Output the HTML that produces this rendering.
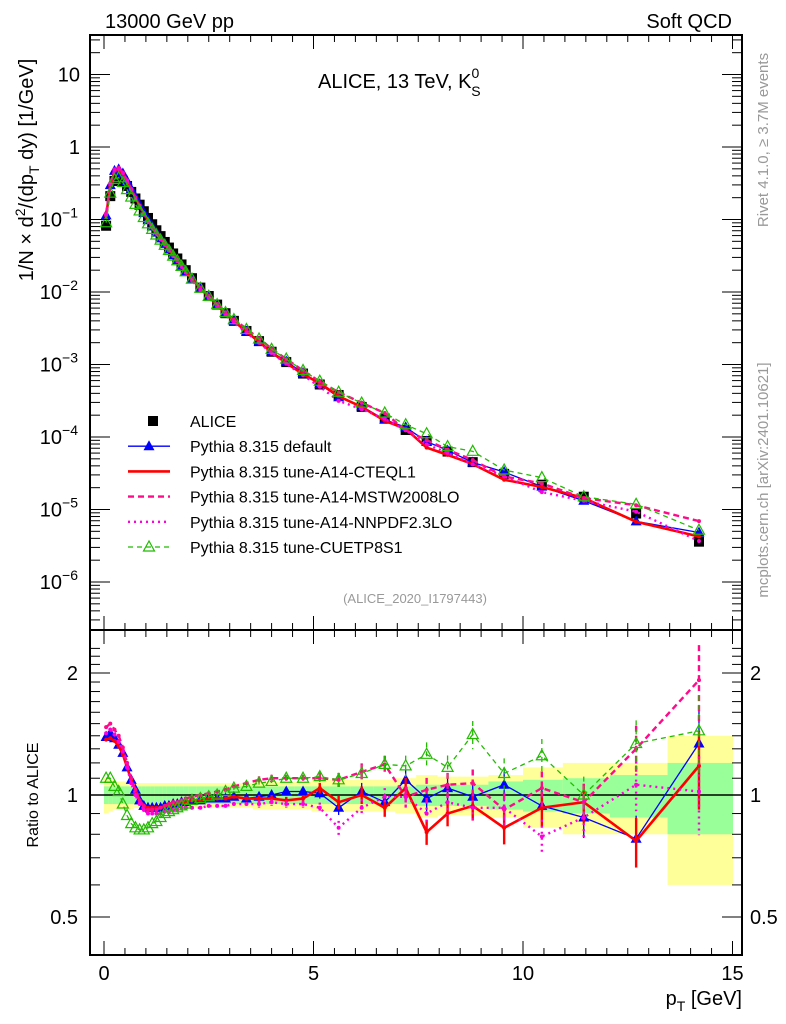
<!DOCTYPE html>
<html><head><meta charset="utf-8">
<style>
html,body{margin:0;padding:0;background:#fff;}
svg{display:block;font-family:"Liberation Sans",sans-serif;}
</style></head>
<body>
<svg id="chart" width="786" height="1024" viewBox="0 0 786 1024" xmlns="http://www.w3.org/2000/svg">
<rect width="786" height="1024" fill="#fff"/>
<g id="bands"></g>
<g id="grid"></g>
<g id="series"></g>
<g id="axes"></g>
<text x="105" y="28" font-size="20">13000 GeV pp</text>
<text x="732" y="28" font-size="20" text-anchor="end">Soft QCD</text>
<text x="318" y="88" font-size="20">ALICE, 13 TeV, K<tspan font-size="14" dy="-10">0</tspan><tspan font-size="14" dx="-8" dy="18">S</tspan></text>
<text x="415" y="603" font-size="13" fill="#999" text-anchor="middle">(ALICE_2020_I1797443)</text>
<text transform="translate(768,140) rotate(-90)" font-size="15" fill="#999" text-anchor="middle">Rivet 4.1.0, ≥ 3.7M events</text>
<text transform="translate(768,480) rotate(-90)" font-size="15" fill="#999" text-anchor="middle">mcplots.cern.ch [arXiv:2401.10621]</text>
<text transform="translate(33,170) rotate(-90)" font-size="20" text-anchor="middle">1/N × d<tspan font-size="14" dy="-8">2</tspan><tspan dy="8">/(dp</tspan><tspan font-size="14" dy="6">T</tspan><tspan dy="-6"> dy) [1/GeV]</tspan></text>
<text transform="translate(38,795) rotate(-90)" font-size="16" text-anchor="middle">Ratio to ALICE</text>
<text x="742" y="1005" font-size="20" text-anchor="end">p<tspan font-size="14" dy="6">T</tspan><tspan dy="-6"> [GeV]</tspan></text>
<g id="legend"></g>
</svg>
<script>
const pT = [0.05,0.15,0.25,0.35,0.45,0.55,0.65,0.75,0.85,0.95,1.05,1.15,1.25,1.35,1.45,1.55,1.65,1.75,1.85,1.95,2.1,2.3,2.5,2.7,2.9,3.1,3.4,3.7,4.0,4.35,4.75,5.15,5.6,6.15,6.7,7.2,7.7,8.2,8.8,9.55,10.45,11.45,12.7,14.2];
const aliceVals = [0.082,0.21,0.34,0.37,0.34,0.29,0.24,0.195,0.16,0.13,0.105,0.086,0.071,0.059,0.049,0.041,0.034,0.029,0.024,0.020,0.0155,0.0115,0.0088,0.0067,0.0051,0.0040,0.0029,0.0021,0.0015,0.00108,0.00075,0.00053,0.00038,0.00026,0.00018,0.000125,0.000088,0.000063,0.000045,0.000031,0.000022,0.000015,0.0000088,0.0000036];
const statErr = [0.05,0.05,0.05,0.05,0.05,0.05,0.05,0.05,0.05,0.05,0.05,0.05,0.05,0.05,0.05,0.05,0.05,0.05,0.05,0.05,0.05,0.05,0.05,0.05,0.05,0.05,0.05,0.05,0.05,0.05,0.05,0.05,0.05,0.05,0.05,0.05,0.06,0.06,0.06,0.08,0.09,0.1,0.12,0.2];
const totErr = [0.1,0.09,0.08,0.08,0.08,0.08,0.08,0.07,0.07,0.07,0.07,0.07,0.07,0.07,0.07,0.07,0.07,0.07,0.07,0.07,0.07,0.07,0.07,0.07,0.07,0.07,0.07,0.08,0.08,0.08,0.08,0.09,0.09,0.09,0.09,0.1,0.12,0.11,0.11,0.12,0.17,0.2,0.2,0.4];
const ratioDefault = [1.39,1.42,1.38,1.33,1.27,1.17,1.09,1.03,0.97,0.94,0.93,0.93,0.93,0.93,0.94,0.94,0.95,0.95,0.96,0.96,0.97,0.97,0.98,0.98,0.98,0.99,0.98,0.99,1.0,1.02,1.02,1.01,0.93,1.02,0.96,1.09,0.98,1.04,0.99,1.06,0.94,0.88,0.78,1.34];
const ratioA14 = [1.37,1.38,1.36,1.32,1.26,1.17,1.09,1.03,0.97,0.94,0.93,0.93,0.93,0.93,0.94,0.94,0.95,0.95,0.96,0.96,0.97,0.97,0.98,0.98,0.98,0.99,0.98,0.98,0.98,0.97,0.98,1.04,0.96,1.0,0.93,1.04,0.81,0.9,0.94,0.83,0.93,0.96,0.77,1.18];
const ratioMSTW = [1.47,1.5,1.45,1.4,1.31,1.2,1.1,1.03,0.97,0.94,0.92,0.92,0.92,0.93,0.94,0.95,0.96,0.96,0.97,0.98,0.99,1.0,1.01,1.02,1.03,1.05,1.07,1.09,1.1,1.1,1.1,1.1,1.09,1.14,1.19,0.99,1.03,1.06,1.07,0.92,1.04,0.96,1.3,1.92];
const ratioNNPDF = [1.42,1.45,1.41,1.35,1.28,1.17,1.07,1.0,0.95,0.92,0.9,0.9,0.9,0.9,0.91,0.91,0.92,0.92,0.93,0.93,0.93,0.93,0.94,0.94,0.94,0.95,0.95,0.95,0.96,0.95,0.95,0.93,0.83,0.93,0.99,0.99,0.9,0.96,0.93,0.93,0.79,0.88,1.06,1.02];
const ratioCUETP8 = [1.1,1.1,1.05,1.02,0.95,0.89,0.85,0.83,0.82,0.82,0.83,0.85,0.86,0.88,0.9,0.91,0.92,0.93,0.94,0.95,0.97,0.98,0.99,1.0,1.02,1.04,1.05,1.07,1.08,1.1,1.1,1.11,1.09,1.13,1.19,1.18,1.26,1.17,1.41,1.13,1.25,1.0,1.34,1.44];
const mcErr = [0,0,0,0,0,0,0,0,0,0,0,0,0,0,0,0,0,0,0,0,0.01,0.01,0.01,0.01,0.01,0.01,0.01,0.02,0.02,0.02,0.02,0.03,0.04,0.05,0.05,0.06,0.07,0.07,0.08,0.09,0.1,0.11,0.14,0.22];
const xTicks = [0,5,10,15];
const mainTickLabels = ["10","1","10^-1","10^-2","10^-3","10^-4","10^-5","10^-6"];
const ratioTicks = [2,1,0.5];

const NS="http://www.w3.org/2000/svg";
const L=90,R=742,T=35,MB=630,RB=955;
const X=v=>104+41.9*v;
const Y=v=>147-72.5*Math.log10(v);
const YR=v=>795-405.3*Math.log10(v);
function mk(tag,attrs,parent){const e=document.createElementNS(NS,tag);for(const k in attrs)e.setAttribute(k,attrs[k]);parent.appendChild(e);return e;}
const bands=document.getElementById('bands'),series=document.getElementById('series'),axes=document.getElementById('axes'),legend=document.getElementById('legend');

const edges=[0];for(let i=0;i<pT.length-1;i++)edges.push((pT[i]+pT[i+1])/2);edges.push(15);
for(let i=0;i<pT.length;i++){
  const y=mk('rect',{x:X(edges[i]),width:X(edges[i+1])-X(edges[i])+0.5,y:YR(1+totErr[i]),height:YR(1-totErr[i])-YR(1+totErr[i]),fill:'#ffff99'},bands);
  
  
  const g=mk('rect',{x:X(edges[i]),width:X(edges[i+1])-X(edges[i])+0.5,y:YR(1+statErr[i]),height:YR(1-statErr[i])-YR(1+statErr[i]),fill:'#99ff99'},bands);
  
  
}
mk('line',{x1:L,x2:R,y1:YR(1),y2:YR(1),stroke:'#000','stroke-width':1.5},bands);

const defs=[
 {name:'pythia-default',r:ratioDefault,c:'#0000ff',w:1.3,dash:'',mk:'tri'},
 {name:'pythia-a14-cteql1',r:ratioA14,c:'#ff0000',w:2.6,dash:'',mk:'dot'},
 {name:'pythia-a14-mstw2008lo',r:ratioMSTW,c:'#ff0a8a',w:2.4,dash:'6,4',mk:'dot'},
 {name:'pythia-a14-nnpdf23lo',r:ratioNNPDF,c:'#ff00dd',w:2.4,dash:'2,4',mk:'dot'},
 {name:'pythia-cuetp8s1',r:ratioCUETP8,c:'#22bb00',w:1.3,dash:'5,4',mk:'otri'}
];
function marker(s,x,y,g,name){
  let e;
  if(s.mk==='tri')e=mk('polygon',{points:`${x},${y-6} ${x-5.5},${y+4} ${x+5.5},${y+4}`,fill:s.c},g);
  else if(s.mk==='otri')e=mk('polygon',{points:`${x},${y-6} ${x-5.5},${y+4} ${x+5.5},${y+4}`,fill:'none',stroke:s.c,'stroke-width':1.2},g);
  else e=mk('circle',{cx:x,cy:y,r:2,fill:s.c},g);
  
  
}
const ag=mk('g',{},series);


for(let i=0;i<pT.length;i++){
  const s=mk('rect',{x:X(pT[i])-5,y:Y(aliceVals[i])-5,width:10,height:10,fill:'#000'},ag);
  
  
}
defs.forEach(s=>{
  const g=mk('g',{},series);
  
  
  const ptsMain=pT.map((p,i)=>`${X(p)},${Y(aliceVals[i]*s.r[i])}`).join(' ');
  const ptsR=pT.map((p,i)=>`${X(p)},${YR(s.r[i])}`).join(' ');
  const l1=mk('polyline',{points:ptsMain,fill:'none',stroke:s.c,'stroke-width':s.w,'stroke-dasharray':s.dash},g);
  
  
  const l2=mk('polyline',{points:ptsR,fill:'none',stroke:s.c,'stroke-width':s.w,'stroke-dasharray':s.dash},g);
  
  
  pT.forEach((p,i)=>{
    const x=X(p);
    if(mcErr[i]>0){
      const e=mk('line',{x1:x,x2:x,y1:YR(s.r[i]*(1+mcErr[i])),y2:YR(s.r[i]*(1-mcErr[i])),stroke:s.c,'stroke-width':s.w>2?2.4:1.3,'stroke-dasharray':s.dash},g);
      
      
    }
    marker(s,x,Y(aliceVals[i]*s.r[i]),g,'spectrum-point');
    marker(s,x,YR(s.r[i]),g,'ratio-point');
  });
});

const f1=mk('rect',{x:L,y:T,width:R-L,height:MB-T,fill:'none',stroke:'#000','stroke-width':2},axes);


const f2=mk('rect',{x:L,y:MB,width:R-L,height:RB-MB,fill:'none',stroke:'#000','stroke-width':2},axes);


for(let v=0;v<=15.01;v+=0.5){
  const maj=Math.abs(v%5)<1e-6;const len=maj?14:7;const x=X(v);
  [[T,1],[MB,-1],[MB,1],[RB,-1]].forEach(([y0,d])=>mk('line',{x1:x,x2:x,y1:y0,y2:y0+d*len,stroke:'#000','stroke-width':1},axes));
}
xTicks.forEach(v=>{
  const t=mk('text',{x:X(v),y:980,'font-size':20,'text-anchor':'middle'},axes);t.textContent=v;
  
  
});
for(let d=1;d>=-7;d--){
  for(let m=1;m<10;m++){
    const v=m*Math.pow(10,d);const y=Y(v);if(y<T||y>MB)continue;
    const len=m===1?20:10;
    mk('line',{x1:L,x2:L+len,y1:y,y2:y,stroke:'#000','stroke-width':1},axes);
    mk('line',{x1:R,x2:R-len,y1:y,y2:y,stroke:'#000','stroke-width':1},axes);
  }
}
mainTickLabels.forEach((lab,i)=>{
  const y=Y(Math.pow(10,1-i))+7;
  const t=mk('text',{x:80,y:y,'font-size':20,'text-anchor':'end'},axes);
  
  
  if(lab.includes('^')){const [b,e]=lab.split('^');t.innerHTML=`${b}<tspan font-size="14" dy="-9">${e.replace('-','−')}</tspan>`;t.setAttribute('x',78);}
  else t.textContent=lab;
});
for(let v=0.4;v<=2.31;v+=0.1){
  const y=YR(v);if(y<MB||y>RB)continue;
  const maj=[0.5,1,2].some(m=>Math.abs(m-v)<1e-6);const len=maj?20:10;
  mk('line',{x1:L,x2:L+len,y1:y,y2:y,stroke:'#000','stroke-width':1},axes);
  mk('line',{x1:R,x2:R-len,y1:y,y2:y,stroke:'#000','stroke-width':1},axes);
}
ratioTicks.forEach(v=>{
  const t=mk('text',{x:78,y:YR(v)+7,'font-size':20,'text-anchor':'end'},axes);t.textContent=v;
  
  
  const t2=mk('text',{x:750,y:YR(v)+7,'font-size':20},axes);t2.textContent=v;
  
  
});
const legItems=[{lab:'ALICE',s:null},{lab:'Pythia 8.315 default',s:defs[0]},{lab:'Pythia 8.315 tune-A14-CTEQL1',s:defs[1]},{lab:'Pythia 8.315 tune-A14-MSTW2008LO',s:defs[2]},{lab:'Pythia 8.315 tune-A14-NNPDF2.3LO',s:defs[3]},{lab:'Pythia 8.315 tune-CUETP8S1',s:defs[4]}];
legItems.forEach((it,i)=>{
  const y=421+25.2*i;
  const g=mk('g',{},legend);
  
  
  if(!it.s){mk('rect',{x:148,y:y-5,width:10,height:10,fill:'#000'},g);}
  else{
    mk('line',{x1:128,x2:170,y1:y,y2:y,stroke:it.s.c,'stroke-width':it.s.w,'stroke-dasharray':it.s.dash},g);
    if(it.s.mk!=='dot')marker(it.s,149,y,g,'legend-marker');
  }
  const t=mk('text',{x:190,y:y+6,'font-size':16},g);t.textContent=it.lab;
});
</script>
</body></html>
